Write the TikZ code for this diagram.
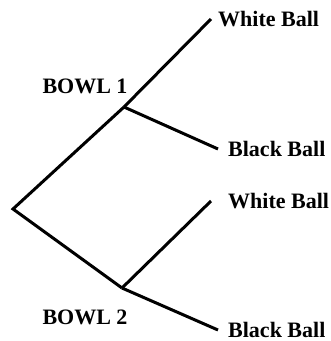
\documentclass[tikz,border=0pt]{standalone}
\usepackage{fontspec}
\setmainfont{Liberation Serif}
\usetikzlibrary{positioning}

\begin{document}
\begin{tikzpicture}[
    x=1pt, y=-1pt,
    every node/.style={font=\bfseries\fontsize{22}{26}\selectfont, inner sep=0pt},
    branch/.style={line width=3pt}
  ]
    \useasboundingbox (0,0) rectangle (331,341);
    % tree points
    \coordinate (root) at (13,209);
    \coordinate (bowl1) at (124,107);
    \coordinate (bowl2) at (122,288);
    \coordinate (w1) at (211,19);
    \coordinate (b1) at (218,149);
    \coordinate (w2) at (211,201);
    \coordinate (b2) at (218,330);
    % labels
    \node[right=7pt of w1] (white1) {White Ball};
    \node[right=10pt of b1] (black1) {Black Ball};
    \node[right=17pt of w2] (white2) {White Ball};
    \node[right=10pt of b2] (black2) {Black Ball};
    \node (bowlone) at (85,86) {BOWL 1};
    \node (bowltwo) at (85,317) {BOWL 2};
    % branches
    \draw[branch] (bowl1) -- (root) -- (bowl2);
    \draw[branch] (bowl1) -- (w1);
    \draw[branch] (bowl1) -- (b1);
    \draw[branch] (bowl2) -- (w2);
    \draw[branch] (bowl2) -- (b2);
\end{tikzpicture}
\end{document}
